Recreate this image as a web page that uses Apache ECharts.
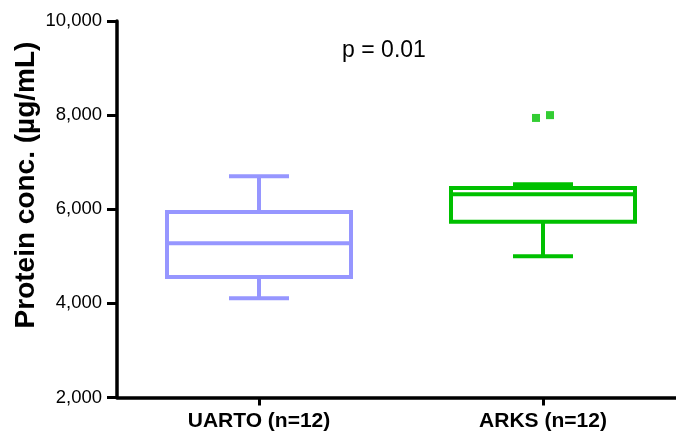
<!DOCTYPE html>
<html>
<head>
<meta charset="utf-8">
<script src="https://cdn.jsdelivr.net/npm/echarts@6/dist/echarts.min.js"></script>
<style>html,body{margin:0;padding:0;background:#fff;}#c{width:676px;height:434px;}</style>
</head>
<body>
<div id="c"></div>
<script>
var categories = ['UARTO (n=12)', 'ARKS (n=12)'];
// [min, Q1, median, Q3, max]
var uartoBox = [4110, 4560, 5280, 5940, 6700];
var arksBox = [5000, 5735, 6320, 6450, 6530];
var arksOutliers = [7940, 8000];
var yTicks = [2000, 4000, 6000, 8000, 10000];
var pText = 'p = 0.01';
var yTitle = 'Protein conc. (µg/mL)';

var colors = ['#9696FF', '#00C000'];
var FONT = 'Liberation Sans, Arial, sans-serif';

var chart = echarts.init(document.getElementById('c'), null, {renderer: 'canvas'});

var boxData = [[0].concat(uartoBox), [1].concat(arksBox)];

function renderBox(params, api) {
  var idx = api.value(0);
  var c = api.coord([idx, api.value(3)]);
  var x = c[0];
  var yMin = api.coord([idx, api.value(1)])[1];
  var yQ1 = api.coord([idx, api.value(2)])[1];
  var yMed = c[1];
  var yQ3 = api.coord([idx, api.value(4)])[1];
  var yMax = api.coord([idx, api.value(5)])[1];
  var hw = 92, cw = 30;
  var style = {stroke: colors[idx], lineWidth: 4, fill: null};
  return {
    type: 'group',
    children: [
      {type: 'line', shape: {x1: x, y1: yQ3, x2: x, y2: yMax}, style: style},
      {type: 'line', shape: {x1: x, y1: yQ1, x2: x, y2: yMin}, style: style},
      {type: 'line', shape: {x1: x - cw, y1: yMax, x2: x + cw, y2: yMax}, style: style},
      {type: 'line', shape: {x1: x - cw, y1: yMin, x2: x + cw, y2: yMin}, style: style},
      {type: 'rect', shape: {x: x - hw, y: yQ3, width: 2 * hw, height: yQ1 - yQ3}, style: {stroke: colors[idx], lineWidth: 4, fill: 'rgba(0,0,0,0)'}},
      {type: 'line', shape: {x1: x - hw, y1: yMed, x2: x + hw, y2: yMed}, style: style}
    ]
  };
}

chart.setOption({
  animation: false,
  backgroundColor: '#fff',
  grid: {left: 117, width: 568, top: 21, height: 376.5, containLabel: false, outerBoundsMode: 'none'},
  xAxis: {
    type: 'category',
    data: categories,
    axisLine: {show: true, lineStyle: {color: '#000', width: 3.5}},
    axisTick: {show: true, alignWithLabel: true, length: 8, lineStyle: {color: '#000', width: 3}},
    axisLabel: {color: '#000', fontFamily: FONT, fontWeight: 'bold', fontSize: 21, margin: 13},
    splitLine: {show: false}
  },
  yAxis: {
    type: 'value',
    min: yTicks[0], max: yTicks[yTicks.length - 1], interval: 2000,
    axisLine: {show: true, lineStyle: {color: '#000', width: 3.5}},
    axisTick: {show: true, length: 10, lineStyle: {color: '#000', width: 3}},
    axisLabel: {color: '#000', fontFamily: FONT, fontSize: 18.5, margin: 15,
      formatter: function (v) { return v.toLocaleString('en-US'); }},
    splitLine: {show: false}
  },
  series: [
    {
      type: 'custom',
      renderItem: renderBox,
      data: boxData,
      encode: {x: 0, y: [1, 2, 3, 4, 5]},
      z: 2
    },
    {
      type: 'scatter',
      symbol: 'rect',
      symbolSize: 8,
      itemStyle: {color: colors[1]},
      data: [
        {value: [1, arksOutliers[0]], symbolOffset: [-7, 0]},
        {value: [1, arksOutliers[1]], symbolOffset: [7, 0]}
      ],
      z: 3
    }
  ],
  graphic: [
    {type: 'text', x: 26, y: 185, rotation: Math.PI / 2,
      style: {text: yTitle, font: 'bold 28px ' + FONT, fill: '#000', align: 'center', verticalAlign: 'middle'}},
    {type: 'text', x: 384, y: 51,
      style: {text: pText, font: '23px ' + FONT, fill: '#000', align: 'center', verticalAlign: 'middle'}}
  ]
});
</script>
</body>
</html>
